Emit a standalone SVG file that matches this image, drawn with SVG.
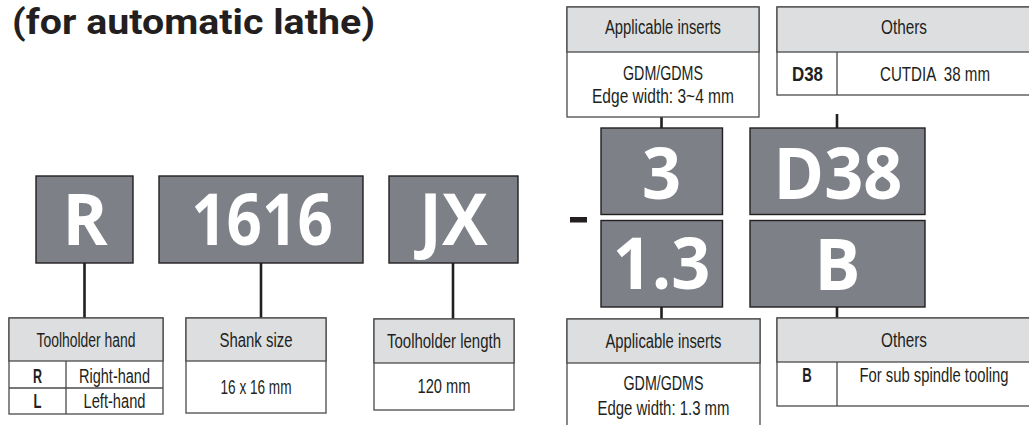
<svg xmlns="http://www.w3.org/2000/svg" width="1029" height="425" viewBox="0 0 1029 425">
<style>
.code{fill:#7e8088;stroke:#231f20;stroke-width:1.4}
.big{font-family:"Open Sans","Liberation Sans",sans-serif;font-weight:700;font-size:72px;fill:#fff;text-anchor:middle}
.tbl{fill:#fff;stroke:#4a4a4c;stroke-width:1.3}
.hdr{fill:#dcdee0;stroke:#4a4a4c;stroke-width:1.3}
.div{stroke:#4a4a4c;stroke-width:1.3}
.t{font-family:"Liberation Sans",Arial,sans-serif;font-size:19.5px;fill:#231f20;text-anchor:middle}
.b{font-weight:700}
.conn line{stroke:#231f20;stroke-width:2.6}
.title{font-family:Roboto,"Liberation Sans",sans-serif;font-weight:700;font-size:35px;fill:#231f20}
</style>
<rect width="1029" height="425" fill="#fff"/>
<text class="title" x="12" y="33.5" textLength="363" lengthAdjust="spacingAndGlyphs">(for automatic lathe)</text>

<g class="conn" id="connectors">
<line x1="84.5" y1="263" x2="84.5" y2="318"/>
<line x1="261" y1="263" x2="261" y2="318"/>
<line x1="453" y1="263" x2="453" y2="319"/>
<line x1="661.5" y1="117" x2="661.5" y2="128"/>
<line x1="837" y1="114" x2="837" y2="128"/>
<line x1="661.5" y1="307" x2="661.5" y2="319"/>
<line x1="837" y1="307" x2="837" y2="318"/>
</g>

<g id="code-R">
<rect class="code" x="36" y="176" width="97" height="87"/>
<text class="big" transform="translate(85,245) scale(0.95,1)">R</text>
</g>
<g id="code-1616">
<rect class="code" x="159" y="176" width="204" height="87"/>
<text class="big" transform="translate(262,245) scale(0.86,1)">1616</text>
</g>
<g id="code-JX">
<rect class="code" x="389" y="176" width="129" height="87"/>
<text class="big" transform="translate(453.5,245) scale(0.95,1)">JX</text>
</g>
<g id="dash">
<rect x="570" y="217" width="17" height="5.5" fill="#231f20"/>
</g>
<g id="code-3">
<rect class="code" x="601" y="128" width="121.5" height="86.5"/>
<text class="big" transform="translate(661.5,198.5) scale(0.95,1)">3</text>
</g>
<g id="code-D38">
<rect class="code" x="750" y="128" width="175" height="86.5"/>
<text class="big" transform="translate(838,198.5) scale(0.95,1)">D38</text>
</g>
<g id="code-1.3">
<rect class="code" x="601" y="220.5" width="121.5" height="86.5"/>
<text class="big" transform="translate(661.5,289) scale(0.95,1)">1.3</text>
</g>
<g id="code-B">
<rect class="code" x="750" y="220.5" width="175" height="86.5"/>
<text class="big" transform="translate(837.5,290) scale(0.95,1)">B</text>
</g>

<g id="tbl-hand">
<rect class="tbl" x="9" y="318" width="154" height="96"/>
<rect class="hdr" x="9" y="318" width="154" height="43"/>
<line class="div" x1="9" y1="388" x2="163" y2="388"/>
<line class="div" x1="66" y1="361" x2="66" y2="414"/>
<text class="t" x="86" y="346.5" textLength="99" lengthAdjust="spacingAndGlyphs">Toolholder hand</text>
<text class="t b" x="37.5" y="382.5" textLength="9" lengthAdjust="spacingAndGlyphs">R</text>
<text class="t" x="114.5" y="382.5" textLength="71" lengthAdjust="spacingAndGlyphs">Right-hand</text>
<text class="t b" x="37.5" y="408" textLength="8" lengthAdjust="spacingAndGlyphs">L</text>
<text class="t" x="114.5" y="408" textLength="62" lengthAdjust="spacingAndGlyphs">Left-hand</text>
</g>
<g id="tbl-shank">
<rect class="tbl" x="186" y="318" width="140" height="95"/>
<rect class="hdr" x="186" y="318" width="140" height="43"/>
<text class="t" x="256" y="346.5" textLength="73" lengthAdjust="spacingAndGlyphs">Shank size</text>
<text class="t" x="256" y="394" textLength="71" lengthAdjust="spacingAndGlyphs">16 x 16 mm</text>
</g>
<g id="tbl-length">
<rect class="tbl" x="374" y="319" width="140" height="91"/>
<rect class="hdr" x="374" y="319" width="140" height="44"/>
<text class="t" x="444" y="347.5" textLength="114" lengthAdjust="spacingAndGlyphs">Toolholder length</text>
<text class="t" x="444" y="393" textLength="53" lengthAdjust="spacingAndGlyphs">120 mm</text>
</g>
<g id="tbl-inserts-bottom">
<rect class="tbl" x="567" y="319" width="193" height="115"/>
<rect class="hdr" x="567" y="319" width="193" height="44"/>
<text class="t" x="663.5" y="347.5" textLength="116" lengthAdjust="spacingAndGlyphs">Applicable inserts</text>
<text class="t" x="663.5" y="389.5" textLength="80" lengthAdjust="spacingAndGlyphs">GDM/GDMS</text>
<text class="t" x="663.5" y="414.5" textLength="132" lengthAdjust="spacingAndGlyphs">Edge width: 1.3 mm</text>
</g>
<g id="tbl-others-bottom">
<rect class="tbl" x="777" y="318" width="254" height="88"/>
<rect class="hdr" x="777" y="318" width="254" height="44"/>
<line class="div" x1="837" y1="362" x2="837" y2="406"/>
<text class="t" x="904" y="346.5" textLength="46" lengthAdjust="spacingAndGlyphs">Others</text>
<text class="t b" x="807" y="381.5" textLength="9.5" lengthAdjust="spacingAndGlyphs">B</text>
<text class="t" transform="translate(934,381.5) scale(0.76,1)">For sub spindle tooling</text>
</g>
<g id="tbl-inserts-top">
<rect class="tbl" x="567" y="7" width="192" height="110"/>
<rect class="hdr" x="567" y="7" width="192" height="45"/>
<text class="t" x="663" y="34" textLength="116" lengthAdjust="spacingAndGlyphs">Applicable inserts</text>
<text class="t" x="663" y="79.5" textLength="80" lengthAdjust="spacingAndGlyphs">GDM/GDMS</text>
<text class="t" x="663" y="102.5" textLength="142" lengthAdjust="spacingAndGlyphs">Edge width: 3~4 mm</text>
</g>
<g id="tbl-others-top">
<rect class="tbl" x="777" y="7" width="254" height="88"/>
<rect class="hdr" x="777" y="7" width="254" height="45"/>
<line class="div" x1="837" y1="52" x2="837" y2="95"/>
<text class="t" x="904" y="34" textLength="46" lengthAdjust="spacingAndGlyphs">Others</text>
<text class="t b" x="807.5" y="80.5" textLength="31" lengthAdjust="spacingAndGlyphs">D38</text>
<text class="t" x="935" y="80.5" textLength="110" lengthAdjust="spacingAndGlyphs" xml:space="preserve">CUTDIA  38 mm</text>
</g>
</svg>
